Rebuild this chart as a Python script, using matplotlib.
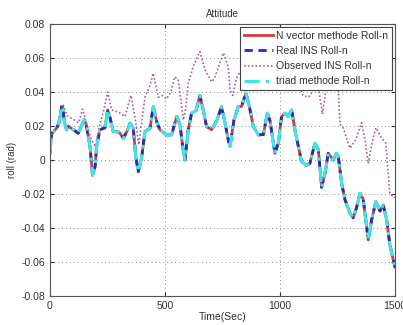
import numpy as np
import matplotlib
matplotlib.use("Agg")
import matplotlib.pyplot as plt

plt.rcParams['font.family'] = ['Liberation Sans', 'DejaVu Sans']

# estimated roll (the three methods lie on top of each other)
t_est = [0, 7, 29, 40, 51, 56, 62, 72, 79, 100, 123, 140, 149, 157, 174, 185, 196, 203,
         217, 239, 251, 261, 275, 300, 319, 335, 348, 362, 373, 384, 399, 413, 435, 449,
         464, 478, 507, 529, 551, 565, 580, 587, 601, 616, 635, 652, 667, 681, 703, 725,
         746, 761, 775, 783, 800, 819, 833, 852, 867, 884, 906, 928, 945, 957, 978, 993,
         1007, 1022, 1036, 1051, 1065, 1080, 1094, 1116, 1130, 1152, 1167, 1181, 1196,
         1210, 1232, 1246, 1254, 1268, 1283, 1304, 1319, 1333, 1348, 1362, 1384, 1399,
         1417, 1435, 1449, 1464, 1478, 1500]
nvec_roll = [0.004, 0.0155, 0.0188, 0.022, 0.0315, 0.031, 0.0227, 0.0178, 0.020, 0.018,
             0.0158, 0.021, 0.0237, 0.021, 0.008, -0.009, -0.004, 0.008, 0.0178, 0.019,
             0.0295, 0.025, 0.0168, 0.0165, 0.0129, 0.017, 0.0217, 0.019, 0.002, -0.007,
             0.002, 0.0168, 0.0188, 0.0315, 0.0226, 0.0178, 0.0148, 0.0148, 0.0256, 0.021,
             0.005, 0.0, 0.0178, 0.0276, 0.029, 0.038, 0.029, 0.0197, 0.0178, 0.023,
             0.0315, 0.022, 0.012, 0.008, 0.0236, 0.0315, 0.0315, 0.0394, 0.0315, 0.0197,
             0.0148, 0.015, 0.0276, 0.023, 0.004, 0.010, 0.0256, 0.0276, 0.0256, 0.0295,
             0.0178, 0.008, -0.001, -0.003, -0.002, 0.0099, 0.006, -0.016, -0.0077,
             0.004, 0.0, 0.004, 0.002, -0.0136, -0.0234, -0.0312, -0.034, -0.028, -0.0195,
             -0.023, -0.047, -0.035, -0.0244, -0.030, -0.0264, -0.035, -0.050, -0.063]
real_ins_roll = list(nvec_roll)
triad_roll = list(nvec_roll)

# observed INS roll
t_obs = [0, 7, 29, 51, 56, 75, 100, 125, 142, 160, 180, 197, 215, 235, 251, 268, 300,
         326, 352, 370, 386, 413, 435, 449, 471, 490, 507, 525, 543, 558, 580, 590, 601,
         623, 652, 674, 703, 715, 754, 775, 783, 795, 810, 840, 870, 900, 940, 980, 1020,
         1060, 1090, 1100, 1125, 1150, 1170, 1185, 1200, 1230, 1252, 1261, 1275, 1304,
         1330, 1355, 1370, 1384, 1400, 1417, 1442, 1460, 1478, 1500]
obs_roll = [0.008, 0.015, 0.019, 0.032, 0.033, 0.026, 0.024, 0.022, 0.030, 0.021, 0.012,
            0.008, 0.020, 0.030, 0.040, 0.0295, 0.028, 0.0256, 0.038, 0.025, 0.009, 0.037,
            0.044, 0.051, 0.037, 0.038, 0.036, 0.040, 0.049, 0.047, 0.0236, 0.030, 0.045,
            0.055, 0.0638, 0.053, 0.046, 0.048, 0.063, 0.055, 0.041, 0.038, 0.048, 0.055,
            0.060, 0.052, 0.058, 0.050, 0.055, 0.048, 0.042, 0.038, 0.037, 0.042, 0.040,
            0.027, 0.042, 0.050, 0.046, 0.021, 0.019, 0.007, 0.012, 0.022, 0.012, -0.002,
            0.010, 0.019, 0.013, 0.010, -0.020, -0.022]

xticks = [0, 500, 1000, 1500]
yticks = [-0.08, -0.06, -0.04, -0.02, 0, 0.02, 0.04, 0.06, 0.08]
ytick_labels = ["-0.08", "-0.06", "-0.04", "-0.02", "0", "0.02", "0.04", "0.06", "0.08"]

fig = plt.figure(figsize=(4.03, 3.25), dpi=100)
ax = fig.add_axes([0.124, 0.089, 0.856, 0.837])

ax.plot(t_est, nvec_roll, color="#d83a3a", lw=2.0, label="N vector methode Roll-n")
ax.plot(t_est, real_ins_roll, color="#2a2ab8", lw=2.0, ls=(0, (3, 2)), label="Real INS Roll-n")
ax.plot(t_obs, obs_roll, color="#a8609a", lw=1.2, ls=(0, (1, 1.3)), label="Observed INS Roll-n")
ax.plot(t_est, triad_roll, color="#40e6e6", lw=2.2, ls=(0, (5, 2, 1, 2)), label="triad methode Roll-n")

ax.set_xlim(0, 1500)
ax.set_ylim(-0.08, 0.08)
ax.set_xticks(xticks)
ax.set_yticks(yticks)
ax.set_yticklabels(ytick_labels)
ax.tick_params(direction="in", top=True, right=True, labelsize=7.5, colors="#333333", length=3)
ax.grid(True, ls=(0, (1, 3)), color="#888888", lw=0.7)
for s in ax.spines.values():
    s.set_color("#555555")
    s.set_linewidth(0.8)

ax.set_title("Attitude", fontsize=7, color="#333333", pad=5)
ax.set_xlabel("Time(Sec)", fontsize=7.5, color="#333333", labelpad=1)
ax.set_ylabel("roll (rad)", fontsize=7, color="#333333", labelpad=3)

leg = ax.legend(loc="upper right", fontsize=7.5, frameon=True, fancybox=False, framealpha=1,
                edgecolor="#444444", handlelength=2.8, handletextpad=0.3, borderpad=0.35,
                labelspacing=0.5, borderaxespad=0.3)
leg.get_frame().set_linewidth(0.8)
for txt in leg.get_texts():
    txt.set_color("#333333")

fig.savefig("out.png", dpi=100)
